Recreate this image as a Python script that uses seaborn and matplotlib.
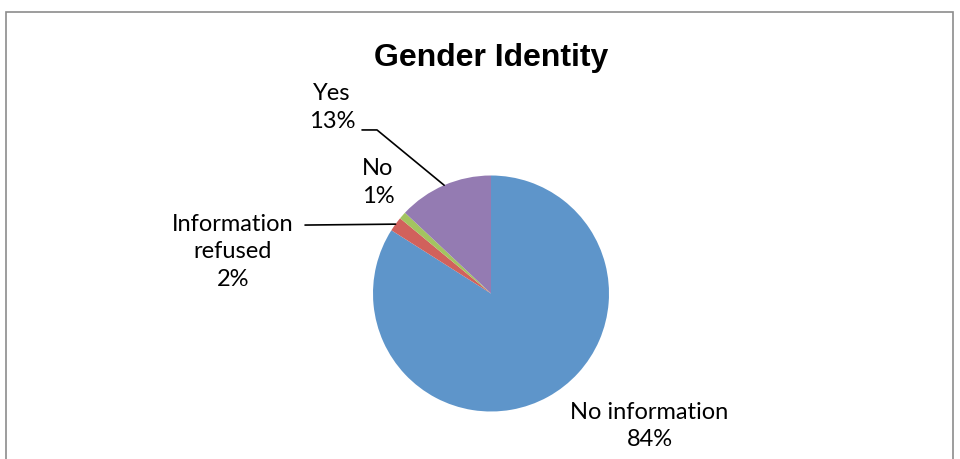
import numpy as np
import matplotlib
matplotlib.use("Agg")
import matplotlib.pyplot as plt
import seaborn as sns
from matplotlib.patches import Rectangle

sns.set_theme(style="white")
plt.rcParams['font.family'] = ['Lato', 'DejaVu Sans']

# data
categories = ["No information", "Information refused", "No", "Yes"]
percent = [84, 2, 1, 13]
colors = ["#5E95CA", "#D1615C", "#A3C460", "#947BB2"]

fig = plt.figure(figsize=(9.6, 4.59), dpi=100)
fig.patch.set_facecolor("white")
fig.patches.append(Rectangle((6 / 960, -0.1), 947 / 960, 1.1 - 12 / 459,
                             transform=fig.transFigure, fill=False,
                             edgecolor="#8c8c8c", lw=1.2))

ax = fig.add_axes([0, 0, 1, 1])
R = 118.0
cx, cy = 491.0, 293.5
wedges, _ = ax.pie(percent, colors=colors, startangle=90, counterclock=False,
                   radius=1.0, wedgeprops=dict(linewidth=0))
ax.set_aspect("auto")
ax.set_xlim(-cx / R, (960 - cx) / R)
ax.set_ylim((cy - 459) / R, cy / R)
ax.axis("off")

ax.text(0, (cy - 58) / R, "Gender Identity", ha="center", va="center",
        fontsize=23, fontweight="bold", color="black",
        family=["Liberation Sans"])

def edge_point(w):
    a = np.deg2rad((w.theta1 + w.theta2) / 2)
    return np.cos(a), np.sin(a)

labels = [f"{c}\n{p}%" for c, p in zip(categories, percent)]
labels[1] = f"Information\nrefused\n{percent[1]}%"
label_pos = [(1.343, -1.123), (-2.186, 0.352), (-0.958, 0.94), (-1.347, 1.576)]
for lab, (x, y) in zip(labels, label_pos):
    ax.text(x, y, lab, ha="center", va="center", fontsize=17,
            linespacing=1.4, color="black")

# leader lines
ex, ey = edge_point(wedges[1])
ax.plot([-1.576, ex], [0.58, ey], color="black", lw=1.2)
ex, ey = edge_point(wedges[3])
ax.plot([-1.093, -0.966, ex], [1.386, 1.386, ey], color="black", lw=1.2)

fig.savefig("out.png", dpi=100)
